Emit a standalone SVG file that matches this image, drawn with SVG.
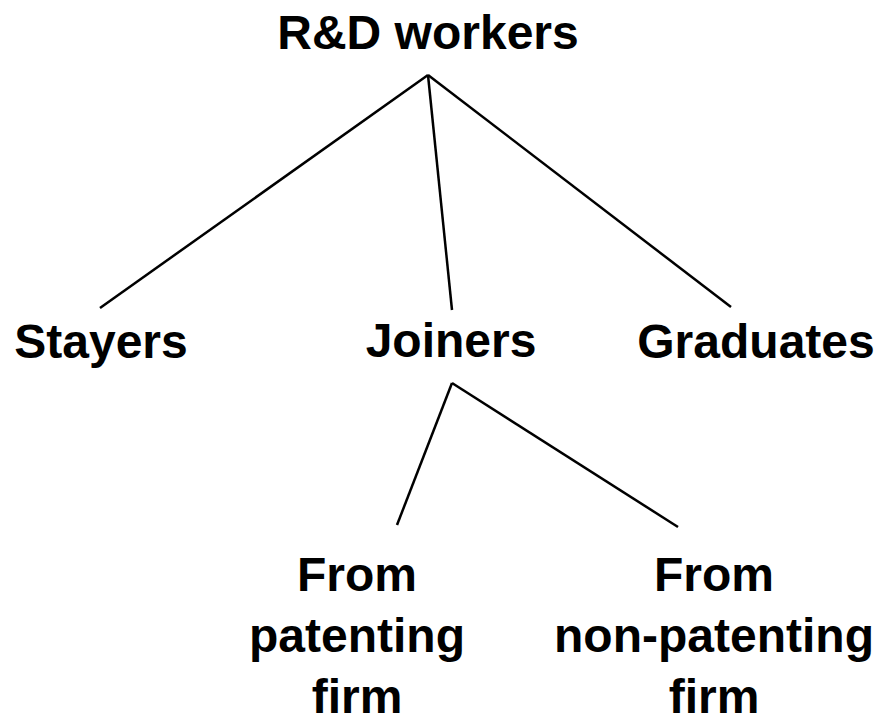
<svg xmlns="http://www.w3.org/2000/svg" width="891" height="725" viewBox="0 0 891 725">
<style>
.t{font-family:"Liberation Sans",Arial,sans-serif;font-weight:bold;font-size:48px;fill:#000;text-anchor:middle}
.c line{stroke:#000;stroke-width:2.5;stroke-linecap:butt}
</style>
<rect width="891" height="725" fill="#fff"/>
<g class="c" id="connectors">
<line x1="428" y1="75" x2="100" y2="308"/>
<line x1="428" y1="75" x2="452" y2="310"/>
<line x1="428" y1="75" x2="731" y2="307"/>
<line x1="452" y1="383" x2="397" y2="525"/>
<line x1="452" y1="383" x2="678" y2="527"/>
</g>
<g id="rd"><text class="t" x="428" y="49">R&amp;D workers</text></g>
<g id="stayers"><text class="t" x="101" y="358">Stayers</text></g>
<g id="joiners"><text class="t" x="451" y="357">Joiners</text></g>
<g id="graduates"><text class="t" x="756" y="358">Graduates</text></g>
<g id="patenting"><text class="t" x="357" y="591">From</text><text class="t" x="357" y="652">patenting</text><text class="t" x="357" y="713">firm</text></g>
<g id="nonpatenting"><text class="t" x="714" y="591">From</text><text class="t" x="714" y="652">non-patenting</text><text class="t" x="714" y="713">firm</text></g>
</svg>
